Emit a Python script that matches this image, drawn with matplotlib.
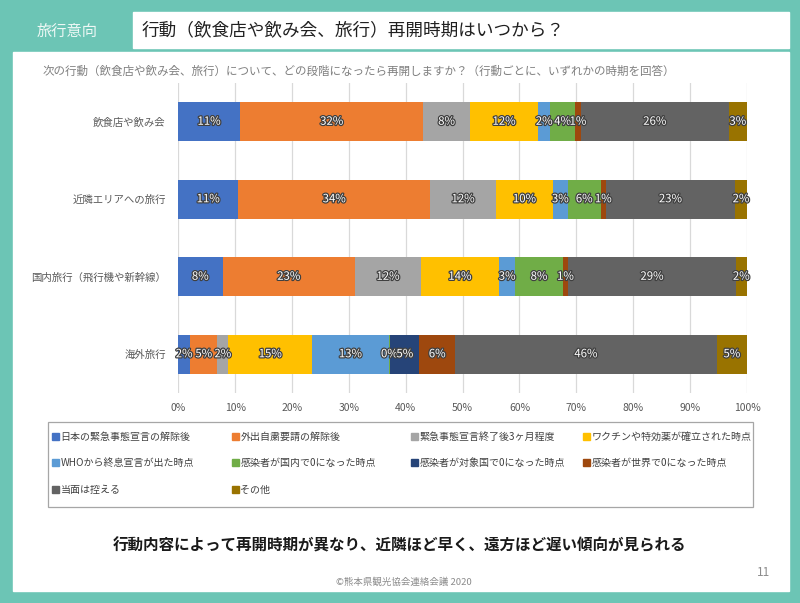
import matplotlib
matplotlib.use("Agg")
import matplotlib.pyplot as plt
import matplotlib.patheffects as pe
from matplotlib.patches import Rectangle

plt.rcParams['font.family'] = ['Noto Sans CJK JP', 'DejaVu Sans']

# データ（単位: %）
categories = ["飲食店や飲み会", "近隣エリアへの旅行", "国内旅行（飛行機や新幹線）", "海外旅行"]
series_names = [
    "日本の緊急事態宣言の解除後",
    "外出自粛要請の解除後",
    "緊急事態宣言終了後3ヶ月程度",
    "ワクチンや特効薬が確立された時点",
    "WHOから終息宣言が出た時点",
    "感染者が国内で0になった時点",
    "感染者が対象国で0になった時点",
    "感染者が世界で0になった時点",
    "当面は控える",
    "その他",
]
# 行: 系列, 列: カテゴリ
values = [
    [10.9, 10.6, 7.8, 2.1],
    [32.2, 33.7, 23.3, 4.8],
    [8.2, 11.6, 11.6, 1.9],
    [12.0, 10.0, 13.7, 14.8],
    [2.1, 2.6, 2.9, 13.4],
    [4.4, 5.8, 8.3, 0.3],
    [0.0, 0.0, 0.0, 5.1],
    [1.0, 0.9, 1.0, 6.3],
    [26.0, 22.7, 29.4, 46.0],
    [3.2, 2.1, 2.0, 5.3],
]
colors = ["#4472C4", "#ED7D31", "#A5A5A5", "#FFC000", "#5B9BD5",
          "#70AD47", "#264478", "#9E480E", "#636363", "#997300"]
xticks = list(range(0, 101, 10))

W, H = 800, 603
teal = "#6CC5B5"


def fx(px):
    return px / W


def fy(py):
    return 1 - py / H


fig = plt.figure(figsize=(W / 100, H / 100), dpi=100, facecolor=teal)

# 白いパネル
fig.patches.append(Rectangle((fx(13), fy(591)), fx(789) - fx(13), (591 - 52) / H,
                             transform=fig.transFigure, color="white", zorder=-5))
fig.patches.append(Rectangle((fx(133), fy(48)), fx(789) - fx(133), 36 / H,
                             transform=fig.transFigure, color="white", zorder=-5))

fig.text(fx(37), fy(31), "旅行意向", color="#EEF8F5", fontsize=11, va="center", ha="left")
fig.text(fx(142), fy(30), "行動（飲食店や飲み会、旅行）再開時期はいつから？",
         color="#202020", fontsize=12.7, va="center", ha="left")
fig.text(fx(43), fy(71), "次の行動（飲食店や飲み会、旅行）について、どの段階になったら再開しますか？（行動ごとに、いずれかの時期を回答）",
         color="#7F7F7F", fontsize=8.3, va="center", ha="left")

ax = fig.add_axes([fx(178.2), fy(393), (747 - 178.2) / W, (393 - 83) / H])
ax.set_facecolor("none")

ypos = list(range(len(categories)))
left = [0.0] * len(categories)
for name, vals, col in zip(series_names, values, colors):
    bars = ax.barh(ypos, vals, left=left, height=0.5, color=col, label=name)
    for b, v in zip(bars, vals):
        if v > 0:
            ax.text(b.get_x() + b.get_width() / 2, b.get_y() + b.get_height() / 2,
                    f"{v:.0f}%", ha="center", va="center", fontsize=8.2, color="white",
                    path_effects=[pe.withStroke(linewidth=1.8, foreground="#404040")])
    left = [l + v for l, v in zip(left, vals)]

ax.set_xlim(0, 100)
ax.set_ylim(len(categories) - 0.5, -0.5)
ax.set_xticks(xticks)
ax.set_xticklabels([f"{t}%" for t in xticks])
ax.set_yticks(ypos)
ax.set_yticklabels(categories)
ax.tick_params(axis="both", length=0, labelsize=7.5, labelcolor="#595959")
ax.tick_params(axis="x", pad=7)
ax.tick_params(axis="y", pad=9)
ax.xaxis.grid(True, color="#D9D9D9", linewidth=0.9)
ax.set_axisbelow(True)
for s in ax.spines.values():
    s.set_visible(False)

# 凡例（枠と4列の並びを手で配置）
fig.patches.append(Rectangle((fx(48), fy(507)), (753 - 48) / W, (507 - 422) / H,
                             transform=fig.transFigure, facecolor="none",
                             edgecolor="#A6A6A6", linewidth=0.9, zorder=2))
col_x = [52, 232, 411, 583]
row_y = [436, 462, 489]
for i, (name, col) in enumerate(zip(series_names, colors)):
    x0 = col_x[i % 4]
    y0 = row_y[i // 4]
    fig.patches.append(Rectangle((fx(x0), fy(y0 + 3.5)), 7 / W, 7 / H,
                                 transform=fig.transFigure, color=col, zorder=2))
    fig.text(fx(x0 + 8.5), fy(y0), name, fontsize=7.2, color="#404040",
             ha="left", va="center_baseline")

fig.text(0.5, fy(545), "行動内容によって再開時期が異なり、近隣ほど早く、遠方ほど遅い傾向が見られる",
         fontsize=11.2, fontweight="bold", color="#1A1A1A", ha="center", va="center")
fig.text(fx(404), fy(582), "©熊本県観光協会連絡会議 2020", fontsize=6.8, color="#8C8C8C",
         ha="center", va="center")
fig.text(fx(770), fy(573), "11", fontsize=8.5, color="#8C8C8C", ha="right", va="center")

fig.savefig("out.png", dpi=100, facecolor=teal)
